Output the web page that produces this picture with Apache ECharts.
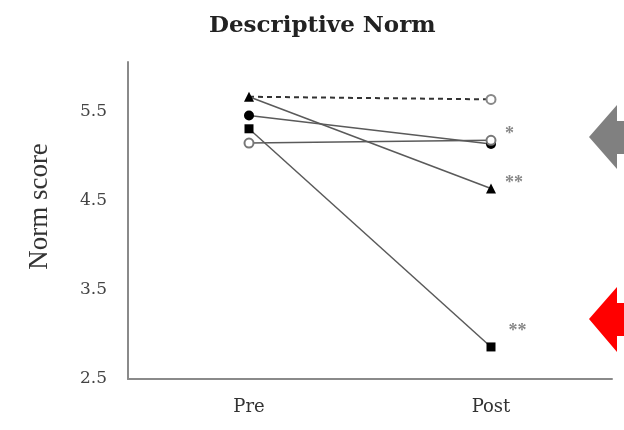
<!DOCTYPE html>
<html>
<head>
<meta charset="utf-8">
<script src="https://cdn.jsdelivr.net/npm/echarts@6/dist/echarts.min.js"></script>
<style>html,body{margin:0;padding:0;background:#fff}#c{width:624px;height:430px}</style>
</head>
<body>
<div id="c"></div>
<script>
const categories = ['Pre', 'Post'];
const dashedSeries = [5.67, 5.64];
const triangleSeries = [5.67, 4.64];
const filledCircleSeries = [5.46, 5.14];
const squareSeries = [5.31, 2.86];
const openCircleSeries = [5.15, 5.18];
const sigLabels = { filled: '*', triangle: '**', square: '**' };

const serif = 'Liberation Serif';
const wideSerif = 'DejaVu Serif';
const lineCol = '#5a5a5a';
function sigPoint(v, text, off) {
  return { value: v, label: { show: true, formatter: text, position: 'right', distance: 5, offset: off,
    color: '#888', fontFamily: serif, fontSize: 18, fontWeight: 'bold' } };
}
const chart = echarts.init(document.getElementById('c'), null, { renderer: 'canvas' });
chart.setOption({
  animation: false,
  backgroundColor: '#fff',
  title: { text: 'Descriptive Norm', left: 204, top: 10,
    textStyle: { fontFamily: wideSerif, fontSize: 23, fontWeight: 'bold', color: '#222' } },
  grid: { left: 128, right: 12, top: 62, bottom: 51 },
  xAxis: {
    type: 'category', data: categories, boundaryGap: true,
    axisLine: { lineStyle: { color: '#8a8a8a', width: 2 } },
    axisTick: { show: false },
    axisLabel: { fontFamily: wideSerif, fontSize: 18, color: '#333', margin: 19 }
  },
  yAxis: {
    type: 'value', min: 2.5, max: 6.06, interval: 1,
    name: 'Norm score', nameLocation: 'middle', nameGap: 75, nameRotate: 90,
    nameTextStyle: { fontFamily: serif, fontSize: 27, color: '#333', padding: [0, 0, 0, 28] },
    splitLine: { show: false },
    axisLine: { show: true, lineStyle: { color: '#8a8a8a', width: 2 } },
    axisTick: { show: false },
    axisLabel: { fontFamily: wideSerif, fontSize: 17, color: '#444', margin: 21, showMaxLabel: false,
      formatter: v => v.toFixed(1) }
  },
  series: [
    { type: 'line', data: [{ value: dashedSeries[0], symbol: 'none' }, dashedSeries[1]],
      symbol: 'emptyCircle', symbolSize: 9,
      lineStyle: { color: '#333', width: 2, type: [5, 4] },
      itemStyle: { color: '#888', borderWidth: 1.5 } },
    { type: 'line', data: [triangleSeries[0], sigPoint(triangleSeries[1], sigLabels.triangle, [4, -5])],
      symbol: 'triangle', symbolSize: 10,
      lineStyle: { color: lineCol, width: 1.5 }, itemStyle: { color: '#000' } },
    { type: 'line', data: [filledCircleSeries[0], sigPoint(filledCircleSeries[1], sigLabels.filled, [4, -10])],
      symbol: 'circle', symbolSize: 10,
      lineStyle: { color: lineCol, width: 1.5 }, itemStyle: { color: '#000' } },
    { type: 'line', data: [squareSeries[0], sigPoint(squareSeries[1], sigLabels.square, [8, -16])],
      symbol: 'rect', symbolSize: 9,
      lineStyle: { color: lineCol, width: 1.5 }, itemStyle: { color: '#000' } },
    { type: 'line', data: openCircleSeries, symbol: 'emptyCircle', symbolSize: 9,
      lineStyle: { color: lineCol, width: 1.5 },
      itemStyle: { color: '#777', borderWidth: 1.5 } }
  ],
  graphic: [
    { type: 'polygon', shape: { points: [[589, 137], [617, 105], [617, 121], [624, 121], [624, 154], [617, 154], [617, 169]] },
      style: { fill: '#808080' } },
    { type: 'polygon', shape: { points: [[589, 319], [617, 287], [617, 303], [624, 303], [624, 336], [617, 336], [617, 352]] },
      style: { fill: '#ff0000' } }
  ]
});
</script>
</body>
</html>
